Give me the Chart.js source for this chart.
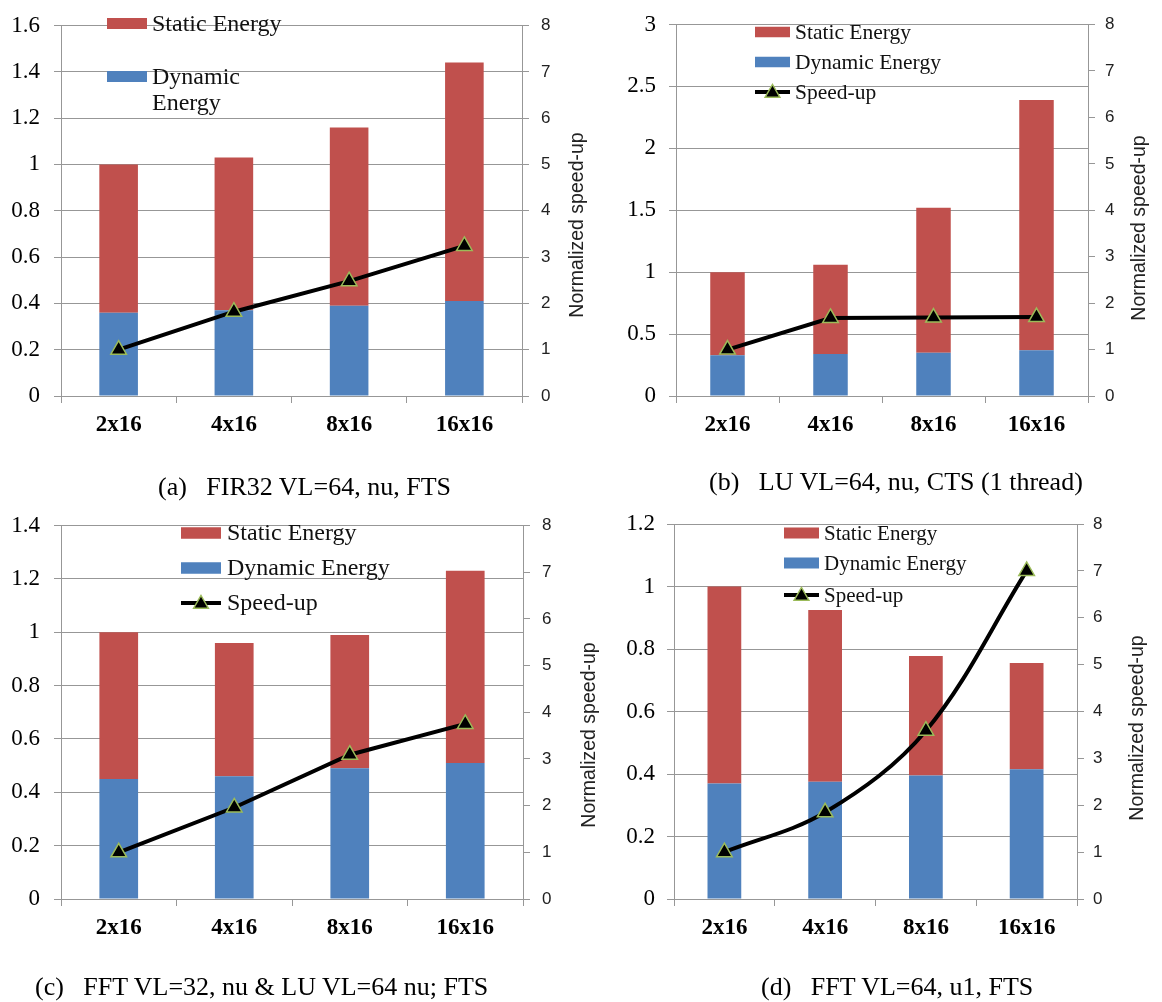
<!DOCTYPE html>
<html>
<head>
<meta charset="utf-8">
<script src="https://cdn.jsdelivr.net/npm/chart.js@4.4.0/dist/chart.umd.min.js"></script>
<style>
  body { margin: 0; background: #fff; }
  #page { position: relative; width: 1162px; height: 1002px; overflow: hidden; }
  canvas { position: absolute; }
  .cap { position: absolute; font-family: "Liberation Serif", serif; font-size: 26px; line-height: 30px; color: #000; white-space: pre; }
</style>
</head>
<body>
<div id="page">
  <canvas id="chartFir" width="600" height="500" style="left:0;top:0"></canvas>
  <canvas id="chartLu" width="581" height="500" style="left:581px;top:0"></canvas>
  <canvas id="chartFftLu" width="600" height="502" style="left:0;top:500px"></canvas>
  <canvas id="chartFft" width="581" height="502" style="left:581px;top:500px"></canvas>
  <div class="cap" style="left:158px;top:472px">(a)   FIR32 VL=64, nu, FTS</div>
  <div class="cap" style="left:709px;top:467px">(b)   LU VL=64, nu, CTS (1 thread)</div>
  <div class="cap" style="left:35px;top:972px">(c)   FFT VL=32, nu &amp; LU VL=64 nu; FTS</div>
  <div class="cap" style="left:761px;top:972px">(d)   FFT VL=64, u1, FTS</div>
</div>
<script>
// configuraciones
const categories = ["2x16", "4x16", "8x16", "16x16"];
const seriesNames = ["Dynamic Energy", "Static Energy", "Speed-up"];

// (a) FIR32
const firDynamic = [0.36, 0.37, 0.39, 0.41];
const firStatic = [0.64, 0.66, 0.77, 1.03];
const firSpeedup = [1.0, 1.82, 2.48, 3.24];

// (b) LU, 1 thread
const luDynamic = [0.33, 0.34, 0.35, 0.37];
const luStatic = [0.67, 0.72, 1.17, 2.02];
const luSpeedup = [1.0, 1.68, 1.69, 1.7];

// (c) FFT VL=32 + LU
const fftLuDynamic = [0.45, 0.46, 0.49, 0.51];
const fftLuStatic = [0.55, 0.5, 0.5, 0.72];
const fftLuSpeedup = [1.0, 1.96, 3.09, 3.75];

// (d) FFT VL=64 u1
const fftDynamic = [0.37, 0.375, 0.395, 0.415];
const fftStatic = [0.63, 0.55, 0.383, 0.34];
const fftSpeedup = [1.0, 1.85, 3.59, 7.0];

const SERIF = '"Liberation Serif", "Times New Roman", serif';
const SANS = '"Liberation Sans", Arial, sans-serif';
const GRID = "#979797";
const RED = "#C0504D";
const BLUE = "#4F81BD";
const MARK_EDGE = "#9BBB59";

// triangulo negro con borde verde
function drawTriangle(ctx, x, y, r) {
  ctx.beginPath();
  ctx.moveTo(x, y - r);
  ctx.lineTo(x + r * 0.866, y + r * 0.5);
  ctx.lineTo(x - r * 0.866, y + r * 0.5);
  ctx.closePath();
  ctx.fillStyle = "#000";
  ctx.fill();
  ctx.lineWidth = 1.5;
  ctx.strokeStyle = MARK_EDGE;
  ctx.stroke();
}

// leyenda dibujada a mano dentro del area
const boxLegend = {
  id: "boxLegend",
  afterDraw(chart, args, opts) {
    const ctx = chart.ctx;
    ctx.save();
    ctx.font = opts.size + "px " + SERIF;
    ctx.textAlign = "left";
    ctx.textBaseline = "middle";
    opts.items.forEach((idx, i) => {
      const ds = chart.data.datasets[idx];
      const cy = opts.ys[i];
      if (ds.type === "line") {
        ctx.strokeStyle = "#000";
        ctx.lineWidth = 4;
        ctx.beginPath();
        ctx.moveTo(opts.boxX, cy);
        ctx.lineTo(opts.boxX + opts.boxW, cy);
        ctx.stroke();
        drawTriangle(ctx, opts.boxX + opts.boxW / 2, cy + 1, 8.5);
      } else {
        ctx.fillStyle = ds.backgroundColor;
        ctx.fillRect(opts.boxX, cy - opts.boxH / 2, opts.boxW, opts.boxH);
      }
      ctx.fillStyle = "#111";
      const lines = opts.wrap && opts.wrap.includes(idx) ? ds.label.split(" ") : [ds.label];
      lines.forEach((t, k) => ctx.fillText(t, opts.textX, cy + 1 + k * opts.lineGap));
    });
    ctx.restore();
  },
};

// titulo vertical del eje
const sideTitle = {
  id: "sideTitle",
  afterDraw(chart, args, opts) {
    const ctx = chart.ctx;
    ctx.save();
    ctx.translate(opts.x, opts.y);
    ctx.rotate(-Math.PI / 2);
    ctx.font = "19.5px " + SANS;
    ctx.fillStyle = "#222";
    ctx.textAlign = "center";
    ctx.textBaseline = "middle";
    ctx.fillText(opts.text, 0, 0);
    ctx.restore();
  },
};

function makePanel(id, dyn, stat, speed, cfg) {
  const canvas = document.getElementById(id);
  const W = canvas.width;
  const H = canvas.height;
  const a = cfg.area;
  const y2w = 60;
  const xh = 50;

  return new Chart(canvas.getContext("2d"), {
    type: "bar",
    data: {
      labels: categories,
      datasets: [
        { label: seriesNames[0], data: dyn, backgroundColor: BLUE, order: 1, yAxisID: "y",
          barPercentage: 0.335, categoryPercentage: 1 },
        { label: seriesNames[1], data: stat, backgroundColor: RED, order: 1, yAxisID: "y",
          barPercentage: 0.335, categoryPercentage: 1 },
        { type: "line", label: seriesNames[2], data: speed, yAxisID: "y2", order: 0,
          borderColor: "#000", borderWidth: 4, tension: cfg.tension || 0,
          pointStyle: "triangle", pointRadius: 9, pointBackgroundColor: "#000",
          pointBorderColor: MARK_EDGE, pointBorderWidth: 1.5 },
      ],
    },
    options: {
      responsive: false,
      animation: false,
      devicePixelRatio: 1,
      layout: {
        padding: { left: 0, right: W - a.right - y2w, top: a.top, bottom: H - a.bottom - xh },
      },
      plugins: {
        legend: { display: false },
        tooltip: { enabled: false },
        boxLegend: cfg.legend,
        sideTitle: cfg.title,
      },
      scales: {
        x: {
          stacked: true,
          offset: true,
          grid: { offset: true, drawOnChartArea: false, drawTicks: true, tickLength: 7, color: GRID },
          border: { color: GRID },
          ticks: { font: { family: SERIF, size: 23, weight: "bold", lineHeight: 1 }, color: "#000", padding: 11 },
          afterFit: (s) => { s.height = xh; },
        },
        y: {
          stacked: true,
          position: "left",
          min: 0,
          max: cfg.yMax,
          grid: { color: GRID, tickLength: 7 },
          border: { color: GRID },
          ticks: {
            stepSize: cfg.yStep,
            padding: cfg.leftPad,
            color: "#000",
            font: { family: SERIF, size: 23, lineHeight: 1 },
            callback: (v) => String(+v.toFixed(2)),
          },
          afterFit: (s) => { s.width = a.left; },
        },
        y2: {
          position: "right",
          min: 0,
          max: 8,
          grid: { drawOnChartArea: false, tickLength: 7, color: GRID },
          border: { color: GRID },
          ticks: { stepSize: 1, padding: cfg.rightPad, color: "#222", font: { family: SANS, size: 17, lineHeight: 1 } },
          afterFit: (s) => { s.width = y2w; },
        },
      },
    },
    plugins: [boxLegend, sideTitle],
  });
}

makePanel("chartFir", firDynamic, firStatic, firSpeedup, {
  area: { left: 61, right: 522, top: 12, bottom: 396 },
  yMax: 1.6, yStep: 0.2, leftPad: 14, rightPad: 12,
  legend: { items: [1, 0], wrap: [0], ys: [23.5, 76.5], boxX: 107, boxW: 40, boxH: 11, textX: 152, size: 24, lineGap: 26 },
  title: { text: "Normalized speed-up", x: 578, y: 225 },
});

makePanel("chartLu", luDynamic, luStatic, luSpeedup, {
  area: { left: 95, right: 507, top: 12, bottom: 396 },
  yMax: 3, yStep: 0.5, leftPad: 13, rightPad: 10,
  legend: { items: [1, 0, 2], ys: [32, 62, 92], boxX: 174, boxW: 35, boxH: 10.5, textX: 214, size: 21.5, lineGap: 24 },
  title: { text: "Normalized speed-up", x: 559, y: 228 },
});

makePanel("chartFftLu", fftLuDynamic, fftLuStatic, fftLuSpeedup, {
  area: { left: 61, right: 523, top: 24, bottom: 399 },
  yMax: 1.4, yStep: 0.2, leftPad: 14, rightPad: 12,
  legend: { items: [1, 0, 2], ys: [33, 68, 103], boxX: 181, boxW: 40, boxH: 11.5, textX: 227, size: 24, lineGap: 26 },
  title: { text: "Normalized speed-up", x: 590, y: 235 },
});

makePanel("chartFft", fftDynamic, fftStatic, fftSpeedup, {
  area: { left: 93, right: 496, top: 24, bottom: 399 },
  yMax: 1.2, yStep: 0.2, leftPad: 12, rightPad: 9, tension: 0.35,
  legend: { items: [1, 0, 2], ys: [33, 63, 95], boxX: 203, boxW: 35, boxH: 11, textX: 243, size: 21, lineGap: 24 },
  title: { text: "Normalized speed-up", x: 557, y: 228 },
});
</script>
</body>
</html>
